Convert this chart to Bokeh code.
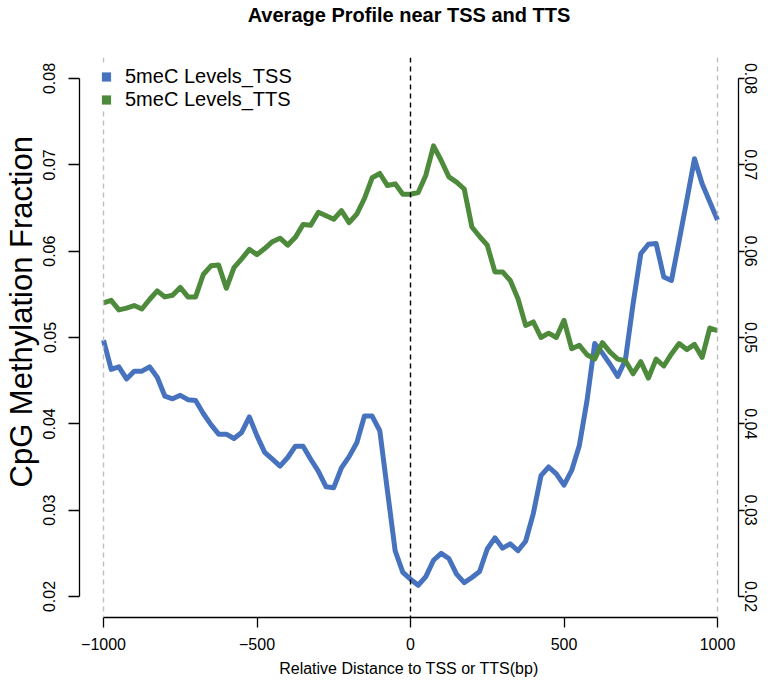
from bokeh.plotting import figure
from bokeh.models import (Range1d, LinearAxis, FixedTicker, Span, Legend, LegendItem,
                          Title, ColumnDataSource)
from bokeh.embed import file_html
from bokeh.resources import INLINE

# ---------------- data ----------------
TITLE = "Average Profile near TSS and TTS"
X_LABEL = "Relative Distance to TSS or TTS(bp)"
Y_LABEL = "CpG Methylation Fraction"
SERIES_NAMES = ["5meC Levels_TSS", "5meC Levels_TTS"]

distance = [-1000, -975, -950, -925, -900, -875, -850, -825, -800, -775,
            -750, -725, -700, -675, -650, -625, -600, -575, -550, -525,
            -500, -475, -450, -425, -400, -375, -350, -325, -300, -275,
            -250, -225, -200, -175, -150, -125, -100, -75, -50, -25,
            0, 25, 50, 75, 100, 125, 150, 175, 200, 225,
            250, 275, 300, 325, 350, 375, 400, 425, 450, 475,
            500, 525, 550, 575, 600, 625, 650, 675, 700, 725,
            750, 775, 800, 825, 850, 875, 900, 925, 950, 975, 1000]

tss_levels = [0.0497, 0.0463, 0.0466, 0.0452, 0.0461, 0.0461, 0.0466, 0.0454, 0.0432, 0.0429,
              0.0433, 0.0428, 0.0427, 0.0412, 0.0399, 0.0388, 0.0388, 0.0383, 0.0390, 0.0408,
              0.0386, 0.0367, 0.0359, 0.0351, 0.0361, 0.0374, 0.0374, 0.0359, 0.0345, 0.0327,
              0.0326, 0.0349, 0.0362, 0.0378, 0.0409, 0.0409, 0.0392, 0.0322, 0.0253, 0.0228,
              0.0220, 0.0213, 0.0223, 0.0242, 0.0250, 0.0244, 0.0226, 0.0216, 0.0222, 0.0229,
              0.0255, 0.0268, 0.0256, 0.0261, 0.0253, 0.0264, 0.0296, 0.0340, 0.0350, 0.0342,
              0.0329, 0.0346, 0.0375, 0.0427, 0.0493, 0.0482, 0.0469, 0.0455, 0.0474, 0.0539,
              0.0597, 0.0608, 0.0609, 0.0570, 0.0566, 0.0612, 0.0659, 0.0707, 0.0678, 0.0657, 0.0636]

tts_levels = [0.0540, 0.0543, 0.0532, 0.0534, 0.0537, 0.0533, 0.0544, 0.0554, 0.0547, 0.0549,
              0.0558, 0.0547, 0.0547, 0.0573, 0.0583, 0.0584, 0.0557, 0.0581, 0.0591, 0.0602,
              0.0596, 0.0603, 0.0611, 0.0615, 0.0607, 0.0616, 0.0631, 0.0630, 0.0645, 0.0641,
              0.0637, 0.0647, 0.0633, 0.0643, 0.0661, 0.0685, 0.0690, 0.0676, 0.0678, 0.0666,
              0.0666, 0.0668, 0.0688, 0.0722, 0.0705, 0.0686, 0.0680, 0.0672, 0.0628, 0.0617,
              0.0607, 0.0576, 0.0576, 0.0566, 0.0545, 0.0514, 0.0518, 0.0500, 0.0505, 0.0500,
              0.0520, 0.0487, 0.0491, 0.0480, 0.0475, 0.0494, 0.0483, 0.0475, 0.0473, 0.0458,
              0.0472, 0.0453, 0.0475, 0.0467, 0.0481, 0.0493, 0.0486, 0.0492, 0.0477, 0.0511, 0.0508]

x_ticks = [-1000, -500, 0, 500, 1000]
x_tick_labels = ["\u22121000", "\u2212500", "0", "500", "1000"]
y_ticks = [0.02, 0.03, 0.04, 0.05, 0.06, 0.07, 0.08]
y_tick_labels = ["0.02", "0.03", "0.04", "0.05", "0.06", "0.07", "0.08"]
edge_lines = [-1000, 1000]     # grey dashed reference lines
centre_line = [0]              # black dashed reference line

# ---------------- styling ----------------
BLUE = "#4773BE"
GREEN = "#4E8A3B"
FONT = "Liberation Sans"

p = figure(width=762, height=680, output_backend="svg", toolbar_location=None,
           title_location=None,
           x_range=Range1d(-1078.2, 1068.4), y_range=Range1d(0.017567, 0.082433),
           min_border_left=79, min_border_right=24, min_border_top=57, min_border_bottom=63,
           x_axis_location=None, y_axis_location=None)
p.outline_line_color = None
p.grid.visible = False
p.background_fill_color = "white"

# chart title, carried by a bare (tick-less) top axis so it can sit at the top edge
title_axis = LinearAxis(ticker=FixedTicker(ticks=[]), axis_line_color=None,
                        major_tick_line_color=None, minor_tick_line_color=None,
                        major_tick_in=0, major_tick_out=0, major_label_standoff=0,
                        bounds=(x_ticks[0], x_ticks[-1]),
                        axis_label=TITLE, axis_label_standoff=32,
                        axis_label_text_font=FONT, axis_label_text_font_style="bold",
                        axis_label_text_font_size="20px", axis_label_text_color="black")
p.add_layout(title_axis, "above")


def style_axis(ax, ticks, labels, bounds, tick_out, standoff, vertical):
    ax.ticker = FixedTicker(ticks=ticks)
    ax.major_label_overrides = {t: l for t, l in zip(ticks, labels)}
    ax.bounds = bounds
    ax.minor_tick_line_color = None
    ax.major_tick_in = 0
    ax.major_tick_out = tick_out
    ax.major_tick_line_width = 1.3
    ax.axis_line_width = 1.3
    ax.axis_line_color = "black"
    ax.major_tick_line_color = "black"
    ax.major_label_text_font = FONT
    ax.major_label_text_font_size = "16px"
    ax.major_label_text_color = "black"
    ax.major_label_standoff = standoff
    if vertical:
        ax.major_label_orientation = "vertical"


xaxis = LinearAxis()
style_axis(xaxis, x_ticks, x_tick_labels, (x_ticks[0], x_ticks[-1]), 10, 10, False)
xaxis.axis_label = X_LABEL
xaxis.axis_label_text_font = FONT
xaxis.axis_label_text_font_size = "16px"
xaxis.axis_label_text_font_style = "normal"
xaxis.axis_label_text_color = "black"
xaxis.axis_label_standoff = 7
p.add_layout(xaxis, "below")

yaxis_l = LinearAxis()
style_axis(yaxis_l, y_ticks, y_tick_labels, (y_ticks[0], y_ticks[-1]), 11, 13, True)
p.add_layout(yaxis_l, "left")

ytitle = Title(text=Y_LABEL, align="left", vertical_align="top", offset=130, standoff=0,
               text_font=FONT, text_font_size="31px", text_font_style="normal",
               text_color="black")
p.add_layout(ytitle, "left")

yaxis_r = LinearAxis()
style_axis(yaxis_r, y_ticks, y_tick_labels, (y_ticks[0], y_ticks[-1]), 6, 0, True)
p.add_layout(yaxis_r, "right")

src = ColumnDataSource(data=dict(x=distance, tss=tss_levels, tts=tts_levels))
p.line("x", "tss", source=src, line_color=BLUE, line_width=5, line_join="round")
p.line("x", "tts", source=src, line_color=GREEN, line_width=5, line_join="round")

for xv in edge_lines:
    p.add_layout(Span(location=xv, dimension="height", line_color="#BEBEBE",
                      line_dash="5 4", line_width=1.4))
for xv in centre_line:
    p.add_layout(Span(location=xv, dimension="height", line_color="black",
                      line_dash="5 4", line_width=1.4))

# zero-size square markers on the same data: they only supply the legend swatches
sq_tss = p.scatter("x", "tss", source=src, marker="square", size=0,
                   fill_color=BLUE, line_color=None)
sq_tts = p.scatter("x", "tts", source=src, marker="square", size=0,
                   fill_color=GREEN, line_color=None)

legend = Legend(items=[LegendItem(label=SERIES_NAMES[0], renderers=[sq_tss], index=0),
                       LegendItem(label=SERIES_NAMES[1], renderers=[sq_tts], index=0)],
                location="top_left", margin=8, padding=5, spacing=0,
                glyph_width=38, glyph_height=23, label_height=23, label_standoff=0,
                label_text_font=FONT, label_text_font_size="20px", label_text_color="black",
                border_line_color=None, background_fill_color="white", background_fill_alpha=1.0)
p.add_layout(legend)

open("out.html", "w").write(file_html(p, INLINE))
